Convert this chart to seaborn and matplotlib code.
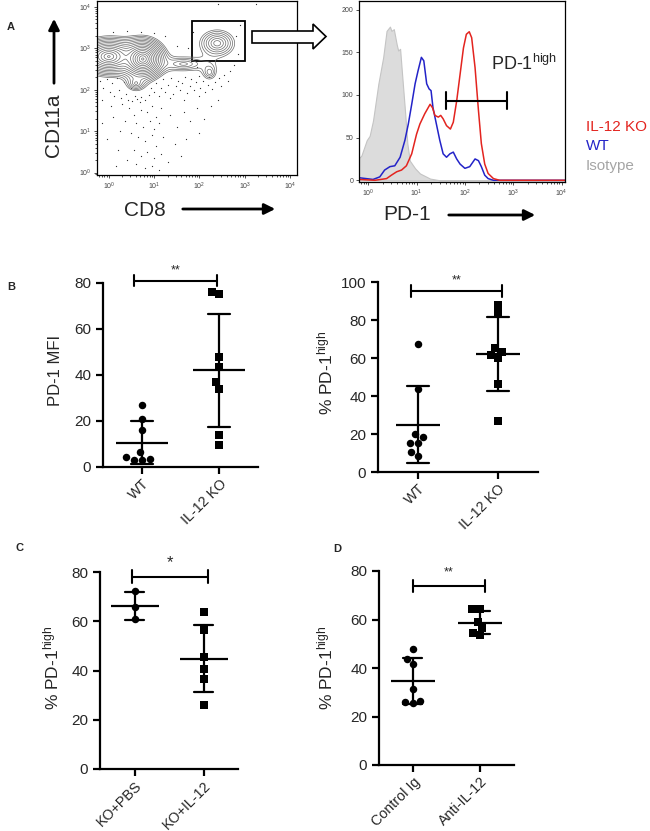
import matplotlib.pyplot as plt
import numpy as np
import pandas as pd
import seaborn as sns
from matplotlib.patches import FancyArrowPatch, Polygon, Rectangle

# ---- panel A, contour plot (log10 units: CD8, CD11a) ----
pop_cd8 = [0.75, 0.00, 2.39, 1.65, 0.60, 2.22]
pop_cd11a = [2.74, 2.80, 3.12, 2.62, 2.15, 2.42]
pop_sd_cd8 = [0.19, 0.28, 0.25, 0.40, 0.16, 0.14]
pop_sd_cd11a = [0.19, 0.19, 0.21, 0.15, 0.14, 0.17]
pop_weight = [1.0, 0.55, 0.09, 0.045, 0.05, 0.035]

# single events outside the contours
dots_cd8 = [
    # band just under the contours
    -0.20, -0.12, -0.05, 0.02, 0.08, 0.12, 0.18, 0.22, 0.28, 0.33, 0.38, 0.42,
    0.48, 0.52, 0.58, 0.62, 0.68, 0.72, 0.80, 0.88, 0.92, 1.00, 1.05, 1.10,
    1.15, 1.20, 1.25, 1.30, 1.38, 1.42, 1.48, 1.52, 1.58, 1.62, 1.68, 1.72,
    1.78, 1.82, 1.88, 1.92, 1.98, 2.02, 2.08, 2.12, 2.18, 2.22, 2.28, 2.35,
    2.42, 2.48, 2.55, 2.62, 2.68, -0.15, 0.05, 0.30, 1.35, 1.65, 2.00,
    # column and sparse events below
    0.45, 0.55, 0.70, 0.85, 0.95, 1.05, 1.15, 0.60, 0.75, 0.90, 1.00, 1.10,
    0.50, 0.65, 0.80, 0.95, 1.05, 1.20, 0.55, 0.70, 0.85, 1.00, 1.15, 0.60,
    0.80, 0.95, 1.10, 0.40, 0.25, 0.10, -0.05, 0.20, 1.35, 1.50, 1.65, 1.80,
    1.95, 2.10, 2.25, 2.40, 1.45, 1.70, 2.00, 1.30, 1.60, 0.35, 0.15, -0.15,
    # above and around
    2.40, 3.25, 0.10, 0.40, 0.70, 1.00, 1.25, 1.50, 1.75, 1.85, 2.80, 2.85,
    2.75, 2.90, 1.95,
]
dots_cd11a = [
    2.20, 2.05, 2.25, 1.95, 2.15, 1.85, 2.28, 2.00, 1.80, 2.18, 1.90, 1.75,
    2.05, 1.72, 1.85, 1.78, 1.70, 1.82, 1.75, 1.88, 2.05, 1.95, 2.15, 1.85,
    2.05, 2.25, 1.95, 2.12, 2.28, 1.90, 2.08, 2.22, 1.98, 2.15, 2.30, 1.92,
    2.10, 2.25, 2.00, 2.18, 2.32, 2.05, 2.22, 1.95, 2.12, 2.30, 2.02, 2.18,
    2.28, 2.10, 2.35, 2.20, 2.45, 1.75, 1.60, 1.65, 1.80, 1.75, 1.85,
    1.55, 1.40, 1.50, 1.45, 1.60, 1.35, 1.55, 1.20, 1.10, 1.25, 1.05, 1.20,
    0.95, 0.85, 0.75, 0.90, 0.65, 0.85, 0.55, 0.40, 0.50, 0.35, 0.45, 0.20,
    0.10, 0.15, 0.05, 0.30, 1.00, 1.35, 0.80, 0.55, 1.40, 1.10, 1.45, 1.25,
    1.55, 1.30, 1.60, 1.75, 0.70, 0.80, 0.95, 0.25, 0.40, 1.25, 0.15, 1.20,
    4.06, 4.07, 3.38, 3.42, 3.40, 3.36, 3.30, 3.05, 3.00, 3.40, 3.30, 2.85,
    2.60, 3.55, 2.55,
]

# ---- panel A, PD-1 histograms (log10 PD-1, event count) ----
iso_log = [-0.19, -0.14, -0.03, 0.03, 0.10, 0.21, 0.31, 0.38, 0.45, 0.48, 0.53,
           0.59, 0.62, 0.66, 0.69, 0.76, 0.81, 0.86, 0.97, 1.07, 1.28, 1.48, 4.10]
iso_count = [26, 29, 47, 52, 70, 113, 144, 175, 180, 175, 177,
             159, 152, 154, 132, 82, 43, 23, 14, 8, 2, 0, 0]
wt_log = [-0.19, 0.10, 0.24, 0.34, 0.45, 0.55, 0.66, 0.76, 0.83, 0.90, 0.97, 1.03,
          1.10, 1.15, 1.21, 1.26, 1.30, 1.34, 1.41, 1.48, 1.55, 1.62, 1.69, 1.76,
          1.83, 1.90, 2.00, 2.10, 2.21, 2.28, 2.34, 2.41, 2.48, 2.59, 4.10]
wt_count = [3, 1, 4, 12, 16, 17, 27, 47, 66, 89, 113, 128,
            144, 140, 113, 107, 105, 85, 66, 47, 31, 27, 31, 33,
            25, 19, 14, 16, 25, 23, 16, 6, 2, 0, 0]
ko_log = [-0.19, 0.14, 0.38, 0.48, 0.59, 0.69, 0.79, 0.90, 1.00, 1.07, 1.17, 1.28,
          1.33, 1.38, 1.45, 1.50, 1.55, 1.62, 1.70, 1.76, 1.83, 1.90, 1.97, 2.03,
          2.09, 2.14, 2.21, 2.28, 2.34, 2.41, 2.48, 2.59, 2.72, 4.10]
ko_count = [1, 0, 2, 6, 10, 12, 17, 31, 54, 66, 78, 89,
            85, 76, 74, 76, 72, 64, 60, 68, 93, 124, 155, 171,
            174, 167, 132, 82, 43, 19, 8, 2, 0, 0]

# ---- panels B-D, per-animal values ----
b_groups = ["WT", "IL-12 KO"]
b_mfi_wt = [27.1, 21.0, 16.2, 6.4, 3.6, 3.2, 3.2, 4.2]
b_mfi_ko = [75.3, 76.1, 47.8, 43.3, 37.0, 34.0, 14.0, 9.7]
b_high_wt = [67.4, 43.5, 19.9, 18.5, 15.3, 15.3, 10.6, 8.5]
b_high_ko = [88.0, 84.0, 63.4, 65.1, 59.9, 61.6, 46.3, 26.9]
c_groups = ["KO+PBS", "KO+IL-12"]
c_pbs = [72.3, 65.7, 60.9]
c_il12 = [63.8, 56.4, 45.6, 40.6, 36.4, 26.0]
d_groups = ["Control Ig", "Anti-IL-12"]
d_ctrl = [47.7, 43.6, 41.5, 31.3, 26.4, 25.4, 25.8]
d_anti = [64.5, 64.5, 56.5, 59.0, 53.5, 54.5]

RED = "#e3241f"
BLUE = "#2323c8"
GREY = "#a5a5a5"

sns.set_theme(style="ticks")
plt.rcParams["font.family"] = ["Liberation Sans", "DejaVu Sans"]
plt.rcParams["mathtext.default"] = "regular"

W, H = 650, 831
fig = plt.figure(figsize=(W / 100, H / 100), dpi=100)


def box(l, t, r, b):
    return [l / W, 1 - b / H, (r - l) / W, (b - t) / H]


def ftext(x, y, s, **kw):
    fig.text(x / W, 1 - y / H, s, **kw)


def fpt(x, y):
    return (x / W, 1 - y / H)


def flow_axes(ax):
    for sp in ax.spines.values():
        sp.set_linewidth(0.9)
        sp.set_color("black")
    ax.tick_params(which="both", labelsize=5, labelcolor="#444444", direction="out",
                   width=0.6, color="#333333", pad=1.5)
    ax.tick_params(which="major", length=2.5)
    ax.tick_params(which="minor", length=1.5)


# ---- A: contour ----
ax = fig.add_axes(box(97, 1, 297, 175))
gx, gy = np.meshgrid(np.linspace(-0.3, 4.2, 360), np.linspace(-0.1, 4.2, 360))
dens = np.zeros_like(gx)
for cx, cy, sx, sy, w in zip(pop_cd8, pop_cd11a, pop_sd_cd8, pop_sd_cd11a, pop_weight):
    q = ((gx - cx) / sx) ** 2 + ((gy - cy) / sy) ** 2
    dens += w * np.exp(-1.2 * q ** 0.6)
levels = dens.max() * np.geomspace(0.012, 0.9, 16)
ax.contour(10 ** gx, 10 ** gy, dens, levels=levels, colors="#6a6a6a", linewidths=0.5)
ax.scatter(10 ** np.array(dots_cd8), 10 ** np.array(dots_cd11a), s=0.8, color="#2a2a2a",
           linewidths=0)
ax.set_xscale("log")
ax.set_yscale("log")
ax.set_xlim(10 ** -0.26, 10 ** 4.15)
ax.set_ylim(10 ** -0.06, 10 ** 4.14)
ax.add_patch(Rectangle((10 ** 1.83, 10 ** 2.68), 10 ** 3.0 - 10 ** 1.83,
                       10 ** 3.66 - 10 ** 2.68, fill=False, lw=1.3, ec="black"))
flow_axes(ax)
ax.set_xticks([1, 10, 100, 1000, 10000])
ax.set_yticks([1, 10, 100, 1000, 10000])

# hollow arrow between the two flow plots
fig.add_artist(Polygon([fpt(252, 31), fpt(313, 31), fpt(313, 24), fpt(326, 36.5),
                        fpt(313, 49), fpt(313, 43), fpt(252, 43)], closed=True,
                       fc="white", ec="black", lw=1.2, transform=fig.transFigure))

ftext(7, 27, "A", fontsize=8, fontweight="bold", va="center")
ftext(54, 125, "CD11a", fontsize=15, rotation=90, ha="center", va="center")
fig.add_artist(FancyArrowPatch(fpt(54, 86), fpt(54, 16), transform=fig.transFigure,
                               arrowstyle="-|>", mutation_scale=16, lw=2, color="black"))
ftext(145, 210, "CD8", fontsize=15, ha="center", va="center")
fig.add_artist(FancyArrowPatch(fpt(180, 209), fpt(278, 209), transform=fig.transFigure,
                               arrowstyle="-|>", mutation_scale=16, lw=2, color="black"))

# ---- A: histograms ----
ax = fig.add_axes(box(359, 1, 565, 182))
ax.fill_between(10 ** np.array(iso_log), iso_count, color="#dcdcdc", ec="#c4c4c4", lw=0.8)
ax.plot(10 ** np.array(wt_log), wt_count, color=BLUE, lw=1.1)
ax.plot(10 ** np.array(ko_log), ko_count, color=RED, lw=1.1)
ax.set_xscale("log")
ax.set_xlim(10 ** -0.19, 10 ** 4.07)
ax.set_ylim(-2, 210)
ax.set_xticks([1, 10, 100, 1000, 10000])
ax.set_yticks([0, 50, 100, 150, 200])
flow_axes(ax)
gate_lo, gate_hi, gate_y = 10 ** 1.61, 10 ** 2.88, 93
ax.plot([gate_lo, gate_hi], [gate_y, gate_y], color="black", lw=1.5)
ax.plot([gate_lo, gate_lo], [gate_y - 10, gate_y + 10], color="black", lw=1.5)
ax.plot([gate_hi, gate_hi], [gate_y - 10, gate_y + 10], color="black", lw=1.5)
ax.text(10 ** 2.55, 136, "PD-1$^{high}$", fontsize=13, ha="left", va="center")

ftext(407, 215, "PD-1", fontsize=15, ha="center", va="center")
fig.add_artist(FancyArrowPatch(fpt(446, 215), fpt(538, 215), transform=fig.transFigure,
                               arrowstyle="-|>", mutation_scale=16, lw=2, color="black"))
ftext(586, 127, "IL-12 KO", fontsize=11, color=RED, va="center")
ftext(586, 146, "WT", fontsize=11, color=BLUE, va="center")
ftext(586, 166, "Isotype", fontsize=11, color=GREY, va="center")


# ---- B-D: dot plots ----
def dot_panel(rect, names, first, second, ymax, bar_pt):
    ax = fig.add_axes(box(*rect))
    df = pd.DataFrame({"group": [names[0]] * len(first) + [names[1]] * len(second),
                       "value": first + second})
    for name, vals, mk in zip(names, [first, second], ["o", "s"]):
        sns.swarmplot(x=[name] * len(vals), y=vals, order=names, marker=mk, color="black",
                      size=5.4, linewidth=0, ax=ax, zorder=3, clip_on=False)
    sns.pointplot(data=df, x="group", y="value", order=names, errorbar="sd", capsize=0.28,
                  color="black", marker="_", markersize=bar_pt, markeredgewidth=1.6,
                  linestyle="none", linewidth=1.6, err_kws={"linewidth": 1.6},
                  ax=ax, zorder=4)
    ax.set_xlim(-0.5, 1.5)
    ax.set_ylim(0, ymax)
    ax.set_yticks(np.arange(0, ymax + 1, 20))
    ax.set_xlabel("")
    ax.set_ylabel("")
    sns.despine(ax=ax)
    for side in ["left", "bottom"]:
        ax.spines[side].set_linewidth(1.6)
        ax.spines[side].set_color("black")
    ax.tick_params(length=5, width=1.6, color="black", labelsize=11)
    ax.tick_params(axis="x", pad=2)
    ax.set_xticks([0, 1])
    ax.set_xticklabels(names, rotation=45, ha="right", va="top", rotation_mode="anchor",
                       fontsize=10.3)
    return ax


def sig_bar(ax, x0, x1, y, h, star, ty, size=9):
    ax.plot([x0, x1], [y, y], color="black", lw=1.5, clip_on=False)
    for xc in (x0, x1):
        ax.plot([xc, xc], [y - h, y + h], color="black", lw=1.5, clip_on=False)
    ax.text((x0 + x1) / 2, ty, star, fontsize=size, ha="center", va="center")


HIGH = "% PD-1$^{high}$"

ax = dot_panel((103, 283, 258, 467), b_groups, b_mfi_wt, b_mfi_ko, 80, 37)
sig_bar(ax, -0.1, 0.97, 81, 2.5, "**", 85.5)
ftext(7, 287, "B", fontsize=8, fontweight="bold", va="center")
ftext(55, 370, "PD-1 MFI", fontsize=12, rotation=90, ha="center", va="center")

ax = dot_panel((378, 282, 538, 472), b_groups, b_high_wt, b_high_ko, 100, 32)
sig_bar(ax, -0.09, 1.05, 95.3, 3.2, "**", 101)
ftext(325, 373, HIGH, fontsize=12.5, rotation=90, ha="center", va="center")

ax = dot_panel((100, 572, 238, 769), c_groups, c_pbs, c_il12, 80, 34)
sig_bar(ax, -0.03, 1.06, 78.1, 2.6, "*", 83.8, size=12)
ftext(15, 548, "C", fontsize=8, fontweight="bold", va="center")
ftext(51, 668, HIGH, fontsize=12.5, rotation=90, ha="center", va="center")

ax = dot_panel((379, 571, 514, 765), d_groups, d_ctrl, d_anti, 80, 32)
sig_bar(ax, 0.0, 1.07, 73.8, 2.4, "**", 79.5)
ftext(333, 549, "D", fontsize=8, fontweight="bold", va="center")
ftext(325, 668, HIGH, fontsize=12.5, rotation=90, ha="center", va="center")

fig.savefig("out.png", dpi=100)
